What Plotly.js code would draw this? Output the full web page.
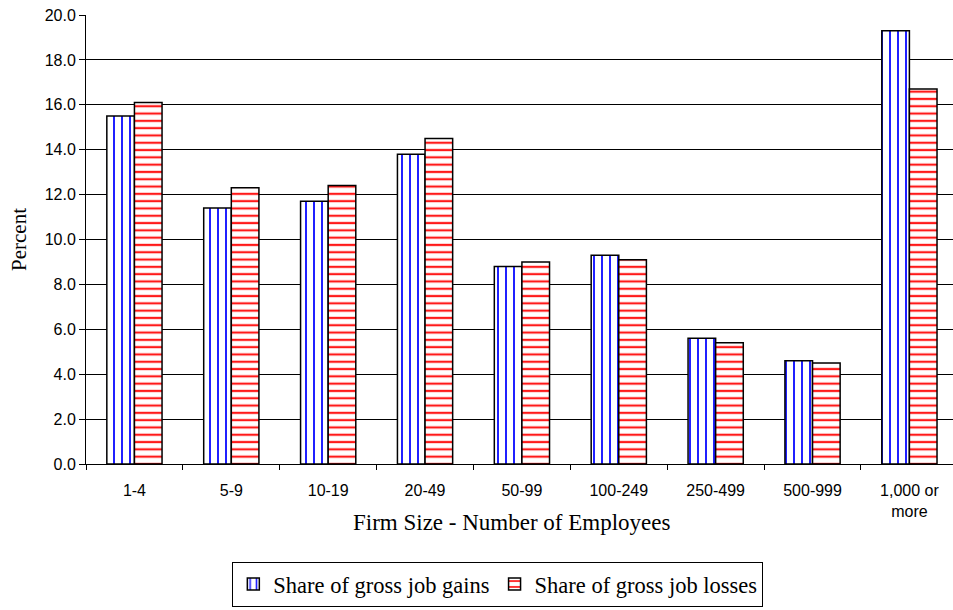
<!DOCTYPE html>
<html><head><meta charset="utf-8">
<script src="https://cdn.plot.ly/plotly-3.0.1.min.js"></script>
<style>html,body{margin:0;padding:0;background:#fff;}#chart{width:953px;height:610px;}</style>
</head><body><div id="chart"></div>
<script>
var categories = ["1-4","5-9","10-19","20-49","50-99","100-249","250-499","500-999","1,000 or<br>more"];
var gains = [15.5, 11.4, 11.7, 13.8, 8.8, 9.3, 5.6, 4.6, 19.3];
var losses = [16.1, 12.3, 12.4, 14.5, 9.0, 9.1, 5.4, 4.5, 16.7];
var seriesNames = ["Share of gross job gains", "Share of gross job losses"];
var xTitle = "Firm Size - Number of Employees";

var traces = [
  {type:"bar", x:categories, y:gains, name:seriesNames[0],
   marker:{color:"#ffffff", line:{color:"#000000", width:1.5},
     pattern:{shape:"|", fgcolor:"#2020ff", bgcolor:"#ffffff", size:8, solidity:0.25}}},
  {type:"bar", x:categories, y:losses, name:seriesNames[1],
   marker:{color:"#ffffff", line:{color:"#000000", width:1.5},
     pattern:{shape:"-", fgcolor:"#ff1a1a", bgcolor:"#ffffff", size:7.3, solidity:0.3}}}
];

var layout = {
  width:953, height:610,
  margin:{l:86, r:0, t:15, b:146, autoexpand:false},
  paper_bgcolor:"#ffffff", plot_bgcolor:"#ffffff",
  barmode:"group", bargap:0.43, bargroupgap:0,
  showlegend:true,
  legend:{orientation:"h", x:0.475, xanchor:"center", y:-0.218, yanchor:"top",
    bordercolor:"#000000", borderwidth:1, font:{family:"Liberation Serif, Times New Roman, serif", size:22.5, color:"#000"},
    itemwidth:30, tracegroupgap:0},
  xaxis:{type:"category", range:[-0.5, 8.45], showline:true, linecolor:"#000", linewidth:1,
    ticks:"outside", tickson:"boundaries", ticklen:5, tickcolor:"#000", ticklabelstandoff:12,
    tickfont:{family:"Liberation Sans, Arial, sans-serif", size:16, color:"#000"},
    showgrid:false, zeroline:false},
  yaxis:{range:[0,20], dtick:2, tickformat:".1f", showline:true, linecolor:"#000", linewidth:1,
    ticks:"outside", ticklen:6, tickcolor:"#000",
    showgrid:true, gridcolor:"#000", gridwidth:1, zeroline:false,
    tickfont:{family:"Liberation Sans, Arial, sans-serif", size:16, color:"#000"},
    title:{text:"Percent", font:{family:"Liberation Serif, Times New Roman, serif", size:21, color:"#000"}, standoff:12}},
  annotations:[{text:xTitle, xref:"paper", yref:"paper", x:0.491, y:-0.131, xanchor:"center", yanchor:"middle",
    showarrow:false, font:{family:"Liberation Serif, Times New Roman, serif", size:23, color:"#000"}}]
};
Plotly.newPlot("chart", traces, layout, {displayModeBar:false, staticPlot:true});
</script></body></html>
